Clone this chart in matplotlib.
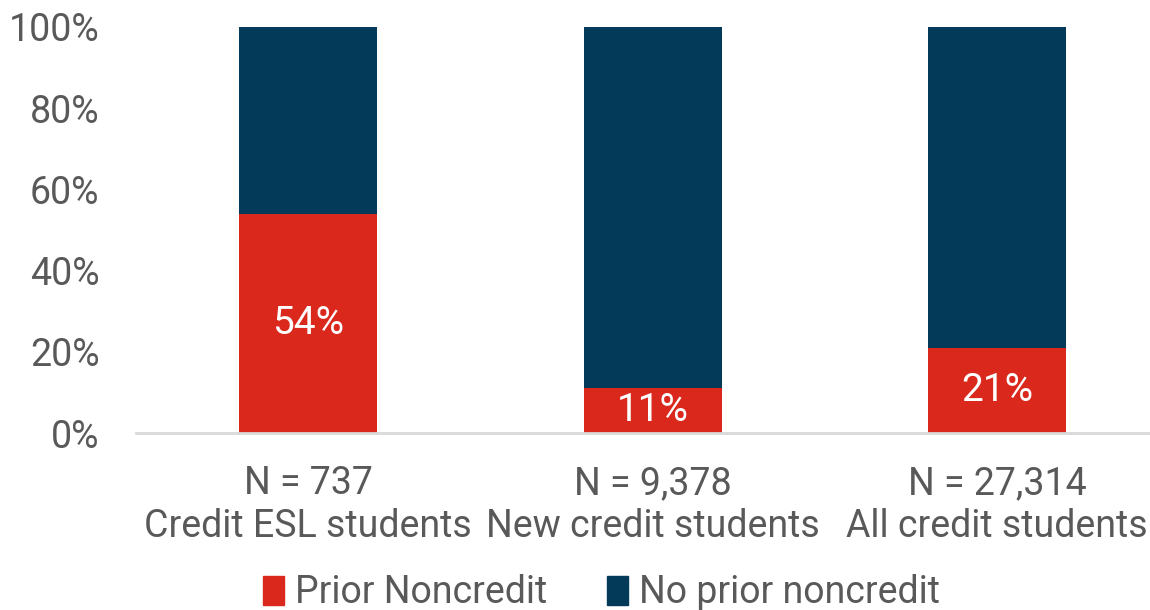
import numpy as np
import matplotlib
matplotlib.use("Agg")
import matplotlib.pyplot as plt
from matplotlib.patches import Patch

# data
groups = ["N = 737\nCredit ESL students",
          "N = 9,378\nNew credit students",
          "N = 27,314\nAll credit students"]
prior = [54, 11, 21]
no_prior = [100 - p for p in prior]
series_names = ["Prior Noncredit", "No prior noncredit"]

red = "#DA291C"
navy = "#033A5A"
grey = "#595959"

plt.rcParams['font.family'] = ['Roboto', 'DejaVu Sans']

fig = plt.figure(figsize=(11.5, 6.1), dpi=100)
ax = fig.add_axes([0.118, 0.29, 0.899, 0.666])

x = np.arange(len(groups))
w = 0.4
ax.bar(x, prior, w, color=red)
ax.bar(x, no_prior, w, bottom=prior, color=navy)

for xi, p in zip(x, prior):
    ax.text(xi, p / 2, "%d%%" % p, ha="center", va="center",
            color="white", fontsize=28)

ax.set_xlim(-0.5, 2.5)
ax.set_ylim(0, 100)
ax.set_yticks(np.arange(0, 101, 20))
ax.set_yticklabels(["%d%%" % v for v in range(0, 101, 20)])
ax.set_xticks(x)
ax.set_xticklabels(groups, linespacing=1.2)

ax.tick_params(axis="y", length=0, labelsize=27, labelcolor=grey, pad=26)
ax.tick_params(axis="x", length=0, labelsize=27, labelcolor=grey, pad=23)

for s in ["top", "right", "left"]:
    ax.spines[s].set_visible(False)
ax.spines["bottom"].set_color("#D9D9D9")
ax.spines["bottom"].set_linewidth(2)

handles = [Patch(color=red), Patch(color=navy)]
fig.legend(handles, series_names, loc="center", bbox_to_anchor=(0.523, 0.028),
           ncol=2, frameon=False, fontsize=27, labelcolor=grey,
           handlelength=0.55, handleheight=0.8, handletextpad=0.3,
           columnspacing=1.6)

fig.savefig("out.png", dpi=100)
